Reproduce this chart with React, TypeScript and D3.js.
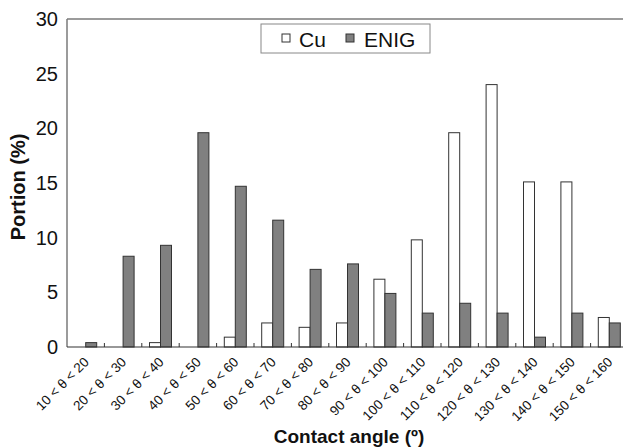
import React from "react";
import * as d3 from "d3";

// contact angle bins
const categories = [
  "10 < θ < 20", "20 < θ < 30", "30 < θ < 40", "40 < θ < 50", "50 < θ < 60",
  "60 < θ < 70", "70 < θ < 80", "80 < θ < 90", "90 < θ < 100", "100 < θ < 110",
  "110 < θ < 120", "120 < θ < 130", "130 < θ < 140", "140 < θ < 150", "150 < θ < 160",
];
const series = ["Cu", "ENIG"];
const cuValues = [0, 0, 0.4, 0, 0.9, 2.2, 1.8, 2.2, 6.2, 9.8, 19.6, 24.0, 15.1, 15.1, 2.7];
const enigValues = [0.4, 8.3, 9.3, 19.6, 14.7, 11.6, 7.1, 7.6, 4.9, 3.1, 4.0, 3.1, 0.9, 3.1, 2.2];
const yTicks = [0, 5, 10, 15, 20, 25, 30];

const fills: Record<string, string> = { Cu: "#ffffff", ENIG: "#808080" };
const font = "'Liberation Sans', Arial, sans-serif";

const App = () => {
  const width = 623;
  const height = 448;
  const margin = { top: 19, left: 67, bottom: 347, right: 628 };

  const x = d3.scaleBand().domain(categories).range([margin.left, margin.right]).padding(0);
  const inner = d3.scaleBand().domain(series).range([0, x.bandwidth()]).paddingInner(0).paddingOuter(0.7);
  const y = d3.scaleLinear().domain([0, 30]).range([margin.bottom, margin.top]);

  const valuesFor = (s: string) => (s === "Cu" ? cuValues : enigValues);

  return (
    <svg width={width} height={height} style={{ position: "absolute", left: 0, top: 0, background: "#fff" }} fontFamily={font}>
      {/* frame */}
      <line x1={margin.left} x2={margin.right} y1={margin.top} y2={margin.top} stroke="#7a7a7a" strokeWidth={1.5} />
      <line x1={margin.left} x2={margin.left} y1={margin.top} y2={margin.bottom} stroke="#7a7a7a" strokeWidth={1.5} />

      {/* bars */}
      {series.map((s) =>
        categories.map((c, i) => {
          const v = valuesFor(s)[i];
          if (v <= 0) return null;
          return (
            <rect
              key={s + c}
              x={(x(c) as number) + (inner(s) as number)}
              y={y(v)}
              width={inner.bandwidth()}
              height={y(0) - y(v)}
              fill={fills[s]}
              stroke="#333"
              strokeWidth={1}
            />
          );
        })
      )}

      {/* x axis */}
      <line x1={margin.left} x2={margin.right} y1={y(0)} y2={y(0)} stroke="#333" strokeWidth={1.2} />
      {categories.slice(1).map((c) => (
        <line key={"t" + c} x1={x(c)} x2={x(c)} y1={y(0)} y2={y(0) - 4} stroke="#333" strokeWidth={1} />
      ))}
      {categories.map((c) => {
        const cx = (x(c) as number) + x.bandwidth() / 2 + 4;
        return (
          <text
            key={"l" + c}
            transform={`translate(${cx},${y(0) + 16}) rotate(-45)`}
            textAnchor="end"
            fontSize={13.5}
            fill="#111"
          >
            {c}
          </text>
        );
      })}

      {/* y axis labels */}
      {yTicks.map((t) => (
        <text key={"y" + t} x={58} y={y(t) + 7} textAnchor="end" fontSize={20} fill="#111">
          {t}
        </text>
      ))}

      {/* axis titles */}
      <text x={349} y={443} textAnchor="middle" fontSize={19} fontWeight="bold" fill="#111">
        Contact angle (º)
      </text>
      <text transform={`translate(25,187) rotate(-90)`} textAnchor="middle" fontSize={20} fontWeight="bold" fill="#111">
        Portion (%)
      </text>

      {/* legend */}
      <rect x={261} y={24} width={169} height={29} fill="#fff" stroke="#888" strokeWidth={1} />
      <rect x={282} y={34} width={8} height={8} fill={fills.Cu} stroke="#333" strokeWidth={1} />
      <text x={299} y={46.5} fontSize={21} fill="#111">Cu</text>
      <rect x={346} y={34} width={8} height={8} fill={fills.ENIG} stroke="#333" strokeWidth={1} />
      <text x={364} y={46.5} fontSize={21} fill="#111">ENIG</text>
    </svg>
  );
};

export default App;
